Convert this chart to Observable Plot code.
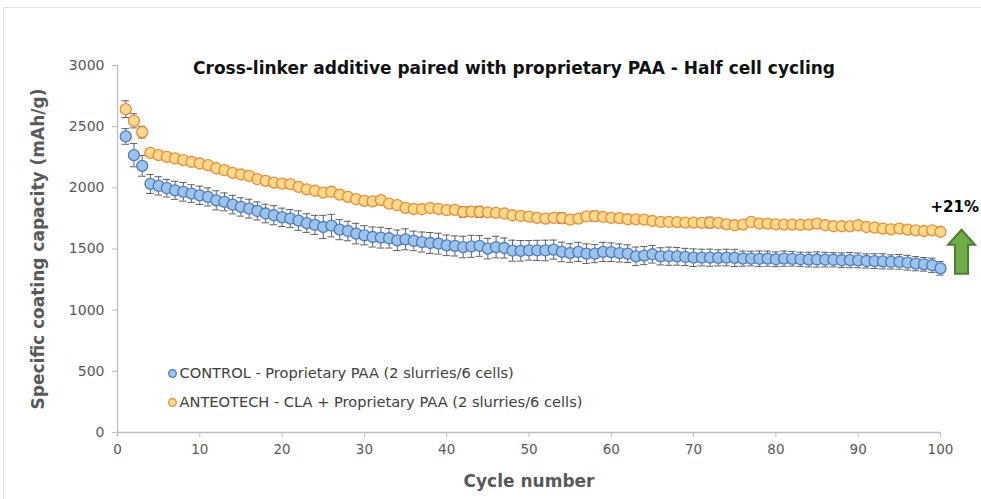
<!DOCTYPE html>
<html>
<head>
<meta charset="utf-8">
<script src="https://cdn.jsdelivr.net/npm/d3@7"></script>
<script src="https://cdn.jsdelivr.net/npm/@observablehq/plot@0.6"></script>
<style>
  html, body { margin: 0; padding: 0; background: #fff; overflow: hidden; width: 981px; height: 499px; }
  #frame { position: absolute; left: 3px; top: 7px; width: 1000px; height: 600px; border: 1.5px solid #e4e4e4; pointer-events: none; }
  #chart { position: absolute; left: 0; top: 0; }
</style>
</head>
<body>
<div id="chart"></div>
<div id="frame"></div>
<script>
const titleText = "Cross-linker additive paired with proprietary PAA - Half cell cycling";
const xLabel = "Cycle number";
const yLabel = "Specific coating capacity (mAh/g)";
const xTicks = [0, 10, 20, 30, 40, 50, 60, 70, 80, 90, 100];
const yTicks = [0, 500, 1000, 1500, 2000, 2500, 3000];
const seriesNames = [
  "CONTROL - Proprietary PAA (2 slurries/6 cells)",
  "ANTEOTECH - CLA + Proprietary PAA (2 slurries/6 cells)"
];
const annotationText = "+21%";

const cycles = d3.range(1, 101);

const control = [
  2420, 2267, 2180, 2032, 2016, 1997, 1980, 1967, 1953, 1939,
  1926, 1898, 1885, 1863, 1844, 1830, 1811, 1790, 1776, 1759,
  1749, 1732, 1712, 1697, 1680, 1691, 1658, 1647, 1626, 1612,
  1598, 1593, 1588, 1571, 1579, 1566, 1557, 1549, 1544, 1530,
  1525, 1516, 1522, 1525, 1503, 1516, 1508, 1486, 1485, 1489,
  1489, 1488, 1495, 1476, 1467, 1476, 1462, 1462, 1476, 1474,
  1467, 1462, 1440, 1446, 1457, 1440, 1441, 1440, 1435, 1429,
  1430, 1429, 1428, 1430, 1427, 1421, 1422, 1420, 1421, 1416,
  1421, 1420, 1416, 1413, 1414, 1413, 1412, 1408, 1409, 1407,
  1402, 1401, 1399, 1394, 1395, 1388, 1380, 1375, 1367, 1342
];
const controlErr = [
  64, 95, 85, 78, 75, 72, 74, 76, 72, 75,
  74, 78, 73, 76, 75, 77, 74, 76, 78, 75,
  74, 80, 76, 78, 95, 92, 82, 80, 84, 78,
  82, 85, 80, 84, 86, 80, 82, 86, 85, 84,
  82, 88, 90, 85, 84, 88, 82, 86, 84, 80,
  82, 84, 78, 80, 76, 78, 80, 74, 78, 76,
  74, 72, 76, 74, 72, 70, 74, 72, 70, 72,
  68, 70, 66, 68, 70, 62, 60, 64, 62, 60,
  62, 60, 58, 60, 62, 60, 58, 60, 62, 60,
  58, 60, 62, 58, 60, 60, 58, 56, 58, 56
];
const anteotech = [
  2643, 2548, 2455, 2286, 2267, 2253, 2240, 2226, 2212, 2199,
  2185, 2160, 2144, 2122, 2109, 2098, 2072, 2057, 2043, 2035,
  2030, 2008, 1988, 1976, 1961, 1968, 1945, 1926, 1907, 1893,
  1890, 1900, 1871, 1858, 1836, 1827, 1825, 1835, 1827, 1817,
  1820, 1803, 1806, 1803, 1800, 1795, 1790, 1776, 1770, 1765,
  1754, 1749, 1754, 1752, 1740, 1749, 1766, 1768, 1762, 1754,
  1752, 1743, 1742, 1740, 1729, 1721, 1721, 1720, 1716, 1716,
  1713, 1716, 1714, 1702, 1694, 1699, 1721, 1708, 1707, 1702,
  1699, 1700, 1698, 1699, 1708, 1694, 1686, 1686, 1685, 1694,
  1680, 1675, 1667, 1661, 1667, 1658, 1653, 1647, 1653, 1641
];
const anteotechErr = [
  68, 58, 48, 30, 28, 26, 28, 26, 28, 26,
  28, 26, 28, 26, 28, 26, 28, 26, 28, 26,
  28, 26, 28, 30, 28, 30, 28, 26, 28, 26,
  28, 30, 28, 26, 28, 30, 28, 26, 28, 30,
  28, 44, 40, 46, 30, 28, 30, 28, 26, 28,
  30, 28, 30, 44, 28, 30, 28, 42, 30, 28,
  30, 28, 26, 28, 30, 28, 26, 28, 30, 28,
  30, 44, 28, 30, 28, 30, 28, 26, 28, 30,
  28, 26, 28, 30, 28, 26, 28, 30, 28, 26,
  28, 30, 28, 26, 28, 30, 28, 26, 28, 30
];
// arrow annotation (from control end level up to CLA end level)
const arrowFrom = [1293];
const arrowTo = [1653];

const fills = ["#9dc3e6", "#ffd98c"];
const strokes = ["#4a7cc9", "#f08a34"];
const font = "'DejaVu Sans', sans-serif";

const ctrlRows = cycles.map((c, i) => ({cycle: c, v: control[i], e: controlErr[i]}));
const cltRows = cycles.map((c, i) => ({cycle: c, v: anteotech[i], e: anteotechErr[i]}));

function errorMarks(rows) {
  return [
    Plot.ruleX(rows, {x: "cycle", y1: d => d.v - d.e, y2: d => d.v + d.e, stroke: "#606060", strokeWidth: 1}),
    Plot.ruleY(rows, {y: d => d.v + d.e, x1: d => d.cycle - 0.45, x2: d => d.cycle + 0.45, stroke: "#606060", strokeWidth: 1}),
    Plot.ruleY(rows, {y: d => d.v - d.e, x1: d => d.cycle - 0.45, x2: d => d.cycle + 0.45, stroke: "#606060", strokeWidth: 1})
  ];
}

function arrowMark(index, scales) {
  const g = d3.create("svg:g");
  arrowFrom.forEach((from, i) => {
    const cx = scales.x(100) + 21.5;
    const top = scales.y(arrowTo[i]);
    const bot = scales.y(from);
    const headW = 13.5, shaftW = 6.5, headH = 15;
    const p = `M${cx},${top} L${cx + headW},${top + headH} L${cx + shaftW},${top + headH} L${cx + shaftW},${bot} L${cx - shaftW},${bot} L${cx - shaftW},${top + headH} L${cx - headW},${top + headH} Z`;
    g.append("path").attr("d", p).attr("fill", "#70ad47").attr("stroke", "#507e32").attr("stroke-width", 2).attr("stroke-linejoin", "miter");
  });
  return g.node();
}

const legendMarks = seriesNames.flatMap((name, i) => [
  Plot.dot([name], {frameAnchor: "bottom-left", dx: 55, dy: -59 + 29 * i, r: 3.8, fill: fills[i], stroke: strokes[i], strokeWidth: 1.3}),
  Plot.text([name], {frameAnchor: "bottom-left", dx: 62, dy: -59 + 29 * i, text: d => d, textAnchor: "start", lineAnchor: "middle", fill: "#404040", fontSize: 14.6, fontFamily: font})
]);

const chart = Plot.plot({
  width: 981,
  height: 499,
  marginLeft: 117,
  marginRight: 41,
  marginTop: 65,
  marginBottom: 67,
  style: {fontFamily: font, background: "transparent"},
  x: {domain: [0, 100]},
  y: {domain: [0, 3000]},
  marks: [
    Plot.axisX({ticks: xTicks, tickFormat: d => String(d), tickSize: 5, tickPadding: 7, stroke: "#bfbfbf", fill: "#595959", fontSize: 13.5, label: null, fontFamily: font}),
    Plot.axisY({ticks: yTicks, tickFormat: d => String(d), tickSize: 5, tickPadding: 8, stroke: "#bfbfbf", fill: "#595959", fontSize: 14, label: null, fontFamily: font}),
    Plot.ruleY([0], {stroke: "#bfbfbf", strokeWidth: 1.3}),
    Plot.ruleX([0], {stroke: "#bfbfbf", strokeWidth: 1.3}),
    ...errorMarks(ctrlRows),
    Plot.dot(ctrlRows, {x: "cycle", y: "v", r: 5.5, fill: fills[0], stroke: strokes[0], strokeWidth: 1.3}),
    ...errorMarks(cltRows),
    Plot.dot(cltRows, {x: "cycle", y: "v", r: 5.5, fill: fills[1], stroke: strokes[1], strokeWidth: 1.3}),
    ...legendMarks,
    Plot.text([titleText], {frameAnchor: "top", dx: -15, dy: 3, lineAnchor: "middle", text: d => d, fontSize: 17, fontWeight: 700, fill: "#111", fontFamily: font}),
    Plot.text([xLabel], {frameAnchor: "bottom", dy: 49, lineAnchor: "middle", text: d => d, fontSize: 17, fontWeight: 700, fill: "#595959", fontFamily: font}),
    Plot.text([yLabel], {frameAnchor: "left", dx: -79, rotate: -90, textAnchor: "middle", lineAnchor: "middle", text: d => d, fontSize: 17, fontWeight: 700, fill: "#595959", fontFamily: font}),
    Plot.text([annotationText], {frameAnchor: "top-right", dx: -10, dy: 142, textAnchor: "start", lineAnchor: "middle", text: d => d, fontSize: 15, fontWeight: 700, fill: "#000", fontFamily: font}),
    arrowMark
  ]
});
document.getElementById("chart").appendChild(chart);
</script>
</body>
</html>
